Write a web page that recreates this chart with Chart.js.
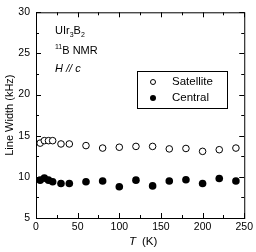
<!DOCTYPE html>
<html>
<head>
<meta charset="utf-8">
<script src="https://cdn.jsdelivr.net/npm/chart.js@4.4.0/dist/chart.umd.min.js"></script>
<style>
  html, body { margin: 0; padding: 0; background: #fff; }
  #wrap { width: 256px; height: 252px; }
</style>
</head>
<body>
<div id="wrap"><canvas id="chart" width="256" height="252"></canvas></div>
<script>
// temperatures (K)
const temps = [5, 10, 15, 20, 30, 40, 60, 80, 100, 120, 140, 160, 180, 200, 220, 240];
// line widths (kHz)
const satellite = [14.1, 14.4, 14.4, 14.4, 14.0, 14.0, 13.8, 13.5, 13.6, 13.7, 13.7, 13.4, 13.45, 13.1, 13.3, 13.5];
const central = [9.6, 9.85, 9.6, 9.4, 9.2, 9.2, 9.4, 9.5, 8.8, 9.6, 8.9, 9.5, 9.65, 9.2, 9.8, 9.5];

const xMajor = [0, 50, 100, 150, 200, 250];
const xMinor = [25, 75, 125, 175, 225];
const yMajor = [5, 10, 15, 20, 25, 30];
const yMinor = [7.5, 12.5, 17.5, 22.5, 27.5];

const FONT = '"Liberation Sans", Arial, sans-serif';

const toPoints = (ys) => temps.map((t, i) => ({ x: t, y: ys[i] }));

// inside ticks on all four sides, box, labels and legend
const framePlugin = {
  id: 'frame',
  afterDraw(chart) {
    const { ctx, chartArea: a, scales: { x, y } } = chart;
    ctx.save();
    ctx.strokeStyle = '#000';
    ctx.lineWidth = 1;
    ctx.strokeRect(a.left + 0.5, a.top + 0.5, a.right - a.left, a.bottom - a.top);

    ctx.beginPath();
    const xt = (v, len) => {
      const px = Math.round(x.getPixelForValue(v)) + 0.5;
      ctx.moveTo(px, a.bottom); ctx.lineTo(px, a.bottom - len);
      ctx.moveTo(px, a.top); ctx.lineTo(px, a.top + len);
    };
    const yt = (v, len) => {
      const py = Math.round(y.getPixelForValue(v)) + 0.5;
      ctx.moveTo(a.left, py); ctx.lineTo(a.left + len, py);
      ctx.moveTo(a.right, py); ctx.lineTo(a.right - len, py);
    };
    xMajor.forEach(v => xt(v, 5));
    xMinor.forEach(v => xt(v, 3));
    yMajor.forEach(v => yt(v, 5));
    yMinor.forEach(v => yt(v, 3));
    ctx.stroke();

    ctx.fillStyle = '#000';
    // sample annotation
    ctx.textBaseline = 'alphabetic';
    ctx.textAlign = 'left';
    ctx.font = '11px ' + FONT;
    let tx = 55;
    ctx.fillText('UIr', tx, 34);
    tx += ctx.measureText('UIr').width;
    ctx.font = '7px ' + FONT;
    ctx.fillText('3', tx, 37);
    tx += ctx.measureText('3').width;
    ctx.font = '11px ' + FONT;
    ctx.fillText('B', tx, 34);
    tx += ctx.measureText('B').width;
    ctx.font = '7px ' + FONT;
    ctx.fillText('2', tx, 37);

    ctx.font = '7px ' + FONT;
    ctx.fillText('11', 55, 49);
    tx = 55 + ctx.measureText('11').width;
    ctx.font = '11px ' + FONT;
    ctx.fillText('B NMR', tx, 54);

    ctx.font = 'italic 11px ' + FONT;
    ctx.fillText('H // c', 55, 72);

    // legend
    const lx = 137, ly = 71, lw = 90, lh = 37;
    ctx.strokeRect(lx + 0.5, ly + 0.5, lw, lh);
    ctx.font = '11.5px ' + FONT;
    ctx.textBaseline = 'middle';
    ctx.beginPath();
    ctx.arc(153, 82, 2.5, 0, Math.PI * 2);
    ctx.stroke();
    ctx.fillText('Satellite', 172, 82);
    ctx.beginPath();
    ctx.arc(153, 98, 3, 0, Math.PI * 2);
    ctx.fill();
    ctx.fillText('Central', 172, 98);

    // axis titles
    ctx.textAlign = 'left';
    ctx.textBaseline = 'middle';
    ctx.font = 'italic 11.5px ' + FONT;
    const tW = ctx.measureText('T').width;
    ctx.fillText('T', 129, 242);
    ctx.font = '11.5px ' + FONT;
    ctx.fillText('(K)', 129 + tW + 6, 242);

    ctx.translate(10, (a.top + a.bottom) / 2);
    ctx.rotate(-Math.PI / 2);
    ctx.textAlign = 'center';
    ctx.font = '11px ' + FONT;
    ctx.fillText('Line Width (kHz)', 0, 0);
    ctx.restore();
  }
};

new Chart(document.getElementById('chart'), {
  type: 'scatter',
  data: {
    datasets: [
      {
        label: 'Satellite',
        data: toPoints(satellite),
        pointStyle: 'circle',
        pointRadius: 3.3,
        pointBorderWidth: 1,
        pointBorderColor: '#000',
        pointBackgroundColor: '#fff'
      },
      {
        label: 'Central',
        data: toPoints(central),
        pointStyle: 'circle',
        pointRadius: 3.8,
        pointBorderWidth: 0,
        pointBorderColor: '#000',
        pointBackgroundColor: '#000'
      }
    ]
  },
  options: {
    responsive: false,
    animation: false,
    devicePixelRatio: 1,
    layout: { padding: { top: 9, right: 11, left: 0, bottom: 0 } },
    plugins: { legend: { display: false }, tooltip: { enabled: false } },
    scales: {
      x: {
        type: 'linear',
        min: 0, max: 250,
        afterFit: (s) => { s.height = 34; },
        afterBuildTicks: (s) => { s.ticks = xMajor.map(v => ({ value: v })); },
        grid: { display: false, drawTicks: false },
        border: { display: false },
        ticks: { color: '#000', padding: 3, font: { family: FONT, size: 10.5 }, maxRotation: 0 }
      },
      y: {
        type: 'linear',
        min: 5, max: 30,
        afterFit: (s) => { s.width = 36; },
        afterBuildTicks: (s) => { s.ticks = yMajor.map(v => ({ value: v })); },
        grid: { display: false, drawTicks: false },
        border: { display: false },
        ticks: { color: '#000', padding: 6, font: { family: FONT, size: 10.5 } }
      }
    }
  },
  plugins: [framePlugin]
});
</script>
</body>
</html>
